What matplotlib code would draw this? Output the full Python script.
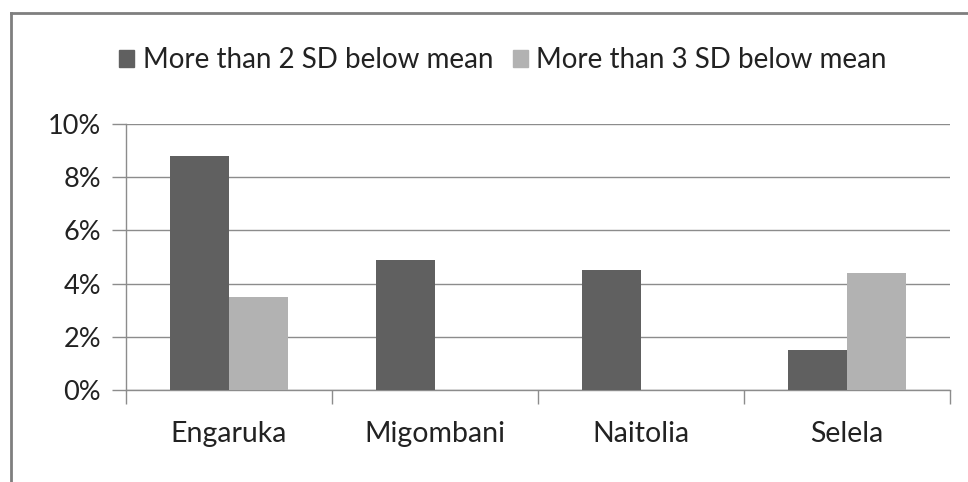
import numpy as np
import matplotlib
matplotlib.use("Agg")
from matplotlib import pyplot as plt
from matplotlib.lines import Line2D
from matplotlib.patches import Rectangle

# data
sites = ["Engaruka", "Migombani", "Naitolia", "Selela"]
below_2sd = [8.8, 4.9, 4.5, 1.5]
below_3sd = [3.5, 0.0, 0.0, 4.4]
series_names = ["More than 2 SD below mean", "More than 3 SD below mean"]

plt.rcParams['font.family'] = ['Lato', 'DejaVu Sans']

fig = plt.figure(figsize=(9.68, 4.82), dpi=100)
W, H = 968, 482
# plot area in pixels: x 126..950, y 124..390
ax = fig.add_axes([126 / W, 1 - 390 / H, (950 - 126) / W, (390 - 124) / H])

x = np.arange(len(sites))
bw = 0.287
ax.bar(x - bw / 2, below_2sd, bw, color="#606060", zorder=3)
ax.bar(x + bw / 2, below_3sd, bw, color="#b2b2b2", zorder=3)

ax.set_xlim(-0.5, len(sites) - 0.5)
ax.set_ylim(0, 10)
ax.set_yticks(range(0, 11, 2))
ax.set_yticklabels([f"{v}%" for v in range(0, 11, 2)], fontsize=19.5, color="#222222")
ax.yaxis.grid(True, color="#8c8c8c", linewidth=1, zorder=0)

# category labels centred, ticks at the boundaries
ax.set_xticks(x)
ax.set_xticklabels(sites, fontsize=20.5, color="#222222")
ax.tick_params(axis='x', length=0, pad=22)
ax.set_xticks(np.arange(-0.5, len(sites)), minor=True)
ax.tick_params(axis='x', which='minor', length=10, color="#8c8c8c", width=1)
ax.tick_params(axis='y', length=10, color="#8c8c8c", width=1, pad=8)

for s in ["top", "right"]:
    ax.spines[s].set_visible(False)
for s in ["left", "bottom"]:
    ax.spines[s].set_color("#8c8c8c")
    ax.spines[s].set_linewidth(1)

# legend
handles = [Rectangle((0, 0), 1, 1, color="#606060"), Rectangle((0, 0), 1, 1, color="#b2b2b2")]
fig.legend(handles, series_names, loc="center", bbox_to_anchor=(503 / W, 1 - 60 / H),
           ncol=2, frameon=False, fontsize=20, handlelength=0.55, handleheight=0.55,
           handletextpad=0.3, columnspacing=0.7, labelcolor="#222222")

# outer frame (top and left edges visible)
fig.add_artist(Line2D([11 / W, 1], [1 - 13 / H, 1 - 13 / H], color="#7f7f7f", linewidth=2))
fig.add_artist(Line2D([11 / W, 11 / W], [0, 1 - 13 / H], color="#7f7f7f", linewidth=2))

fig.savefig("out.png", dpi=100)
